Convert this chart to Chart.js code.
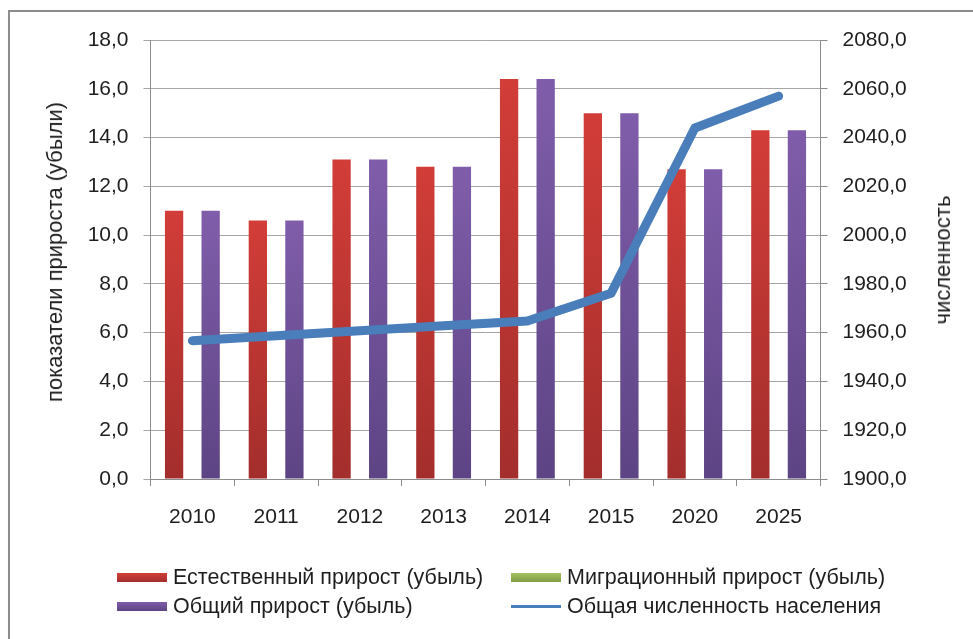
<!DOCTYPE html>
<html lang="ru">
<head>
    <meta charset="UTF-8">
    <title>Прирост и численность населения</title>
    <script src="https://cdn.jsdelivr.net/npm/chart.js"></script>
    <style>
        body {
            margin: 0;
            background: #ffffff;
            font-family: 'Liberation Sans', Arial, sans-serif;
            color: #1e1e1e;
        }

        .stage {
            position: relative;
            width: 973px;
            height: 639px;
            overflow: hidden;
        }

        .frame {
            position: absolute;
            left: 8px;
            top: 10px;
            width: 1000px;
            height: 700px;
            border: 2px solid #8c8c8c;
            box-shadow: 2px 2px 3px rgba(0,0,0,0.15);
        }

        #chart {
            position: absolute;
            left: 0;
            top: 0;
        }

        .axis-title {
            position: absolute;
            font-size: 22px;
            white-space: nowrap;
            transform: translate(-50%, -50%) rotate(-90deg);
        }

        .legend-item {
            position: absolute;
            font-size: 21.5px;
            white-space: nowrap;
            line-height: 24px;
            display: flex;
            align-items: center;
        }

        .swatch {
            width: 50px;
            height: 9px;
            margin-right: 6px;
        }

        .swatch.line {
            height: 3px;
        }
    </style>
</head>
<body>
    <div class="stage">
        <div class="frame"></div>
        <canvas id="chart" width="973" height="639"></canvas>
        <div class="axis-title" style="left:55px; top:252px;">показатели прироста (убыли)</div>
        <div class="axis-title" style="left:943px; top:260px;">численность</div>
        <div id="legend"></div>
    </div>

    <script>
        // Chart data
        const years = ['2010', '2011', '2012', '2013', '2014', '2015', '2020', '2025'];
        const naturalGrowth = [11.0, 10.6, 13.1, 12.8, 16.4, 15.0, 12.7, 14.3];
        const migrationGrowth = [0, 0, 0, 0, 0, 0, 0, 0];
        const totalGrowth = [11.0, 10.6, 13.1, 12.8, 16.4, 15.0, 12.7, 14.3];
        const population = [1956.7, 1958.7, 1960.8, 1962.8, 1964.8, 1976.2, 2043.9, 2057.0];

        const leftTicks = { min: 0, max: 18, step: 2 };
        const rightTicks = { min: 1900, max: 2080, step: 20 };

        const seriesNames = [
            'Естественный прирост (убыль)',
            'Миграционный прирост (убыль)',
            'Общий прирост (убыль)',
            'Общая численность населения'
        ];

        const fmt = v => v.toFixed(1).replace('.', ',');

        // vertical gradient per bar, lighter at the top
        function barFill(topColor, bottomColor) {
            return function(context) {
                const chart = context.chart;
                if (!chart.chartArea || context.raw === undefined) return topColor;
                const y = chart.scales.y;
                const g = chart.ctx.createLinearGradient(0, y.getPixelForValue(context.raw), 0, y.getPixelForValue(0));
                g.addColorStop(0, topColor);
                g.addColorStop(1, bottomColor);
                return g;
            };
        }

        const font = { family: "'Liberation Sans', Arial, sans-serif", size: 21 };

        new Chart(document.getElementById('chart'), {
            type: 'bar',
            data: {
                labels: years,
                datasets: [
                    {
                        label: seriesNames[3],
                        type: 'line',
                        data: population,
                        yAxisID: 'y2',
                        borderColor: '#4a7ebb',
                        borderWidth: 9,
                        borderCapStyle: 'round',
                        borderJoinStyle: 'round',
                        pointRadius: 0,
                        tension: 0,
                        order: 0
                    },
                    {
                        label: seriesNames[0],
                        data: naturalGrowth,
                        yAxisID: 'y',
                        backgroundColor: barFill('#d23d38', '#a32e2c'),
                        order: 1
                    },
                    {
                        label: seriesNames[1],
                        data: migrationGrowth,
                        yAxisID: 'y',
                        backgroundColor: barFill('#a3c262', '#7f9b45'),
                        order: 1
                    },
                    {
                        label: seriesNames[2],
                        data: totalGrowth,
                        yAxisID: 'y',
                        backgroundColor: barFill('#805daa', '#5d4484'),
                        order: 1
                    }
                ]
            },
            options: {
                responsive: false,
                animation: false,
                categoryPercentage: 0.655,
                barPercentage: 1.0,
                layout: {
                    padding: { left: 0, right: 0, top: 40, bottom: 100 }
                },
                plugins: {
                    legend: { display: false },
                    tooltip: { enabled: false }
                },
                scales: {
                    x: {
                        offset: true,
                        grid: {
                            offset: true,
                            drawOnChartArea: false,
                            tickLength: 7,
                            color: '#8c8c8c'
                        },
                        border: { color: '#8c8c8c' },
                        ticks: { font: font, color: '#1e1e1e', padding: 19, maxRotation: 0 },
                        afterFit: scale => { scale.height = 60; }
                    },
                    y: {
                        position: 'left',
                        min: leftTicks.min,
                        max: leftTicks.max,
                        grid: { color: '#a6a6a6', tickLength: 7 },
                        border: { color: '#8c8c8c' },
                        ticks: {
                            stepSize: leftTicks.step,
                            font: font,
                            color: '#1e1e1e',
                            padding: 15,
                            callback: v => fmt(v)
                        },
                        afterFit: scale => { scale.width = 150.5; }
                    },
                    y2: {
                        position: 'right',
                        min: rightTicks.min,
                        max: rightTicks.max,
                        grid: { drawOnChartArea: false, tickLength: 7, color: '#8c8c8c' },
                        border: { color: '#8c8c8c' },
                        ticks: {
                            stepSize: rightTicks.step,
                            font: font,
                            color: '#1e1e1e',
                            padding: 15,
                            callback: v => fmt(v)
                        },
                        afterFit: scale => { scale.width = 152.5; }
                    }
                }
            }
        });

        // legend in two columns, like the original
        const legendItems = [
            { name: seriesNames[0], bg: 'linear-gradient(#d23d38, #a32e2c)', x: 117, y: 577, line: false },
            { name: seriesNames[1], bg: 'linear-gradient(#a3c262, #7f9b45)', x: 511, y: 577, line: false },
            { name: seriesNames[2], bg: 'linear-gradient(#805daa, #5d4484)', x: 117, y: 606, line: false },
            { name: seriesNames[3], bg: '#4a7ebb', x: 511, y: 606, line: true }
        ];
        const legend = document.getElementById('legend');
        legend.innerHTML = legendItems.map(it => `
            <div class="legend-item" style="left:${it.x}px; top:${it.y - 12}px;">
                <div class="swatch${it.line ? ' line' : ''}" style="background:${it.bg};"></div>
                <span>${it.name}</span>
            </div>
        `).join('');
    </script>
</body>
</html>
